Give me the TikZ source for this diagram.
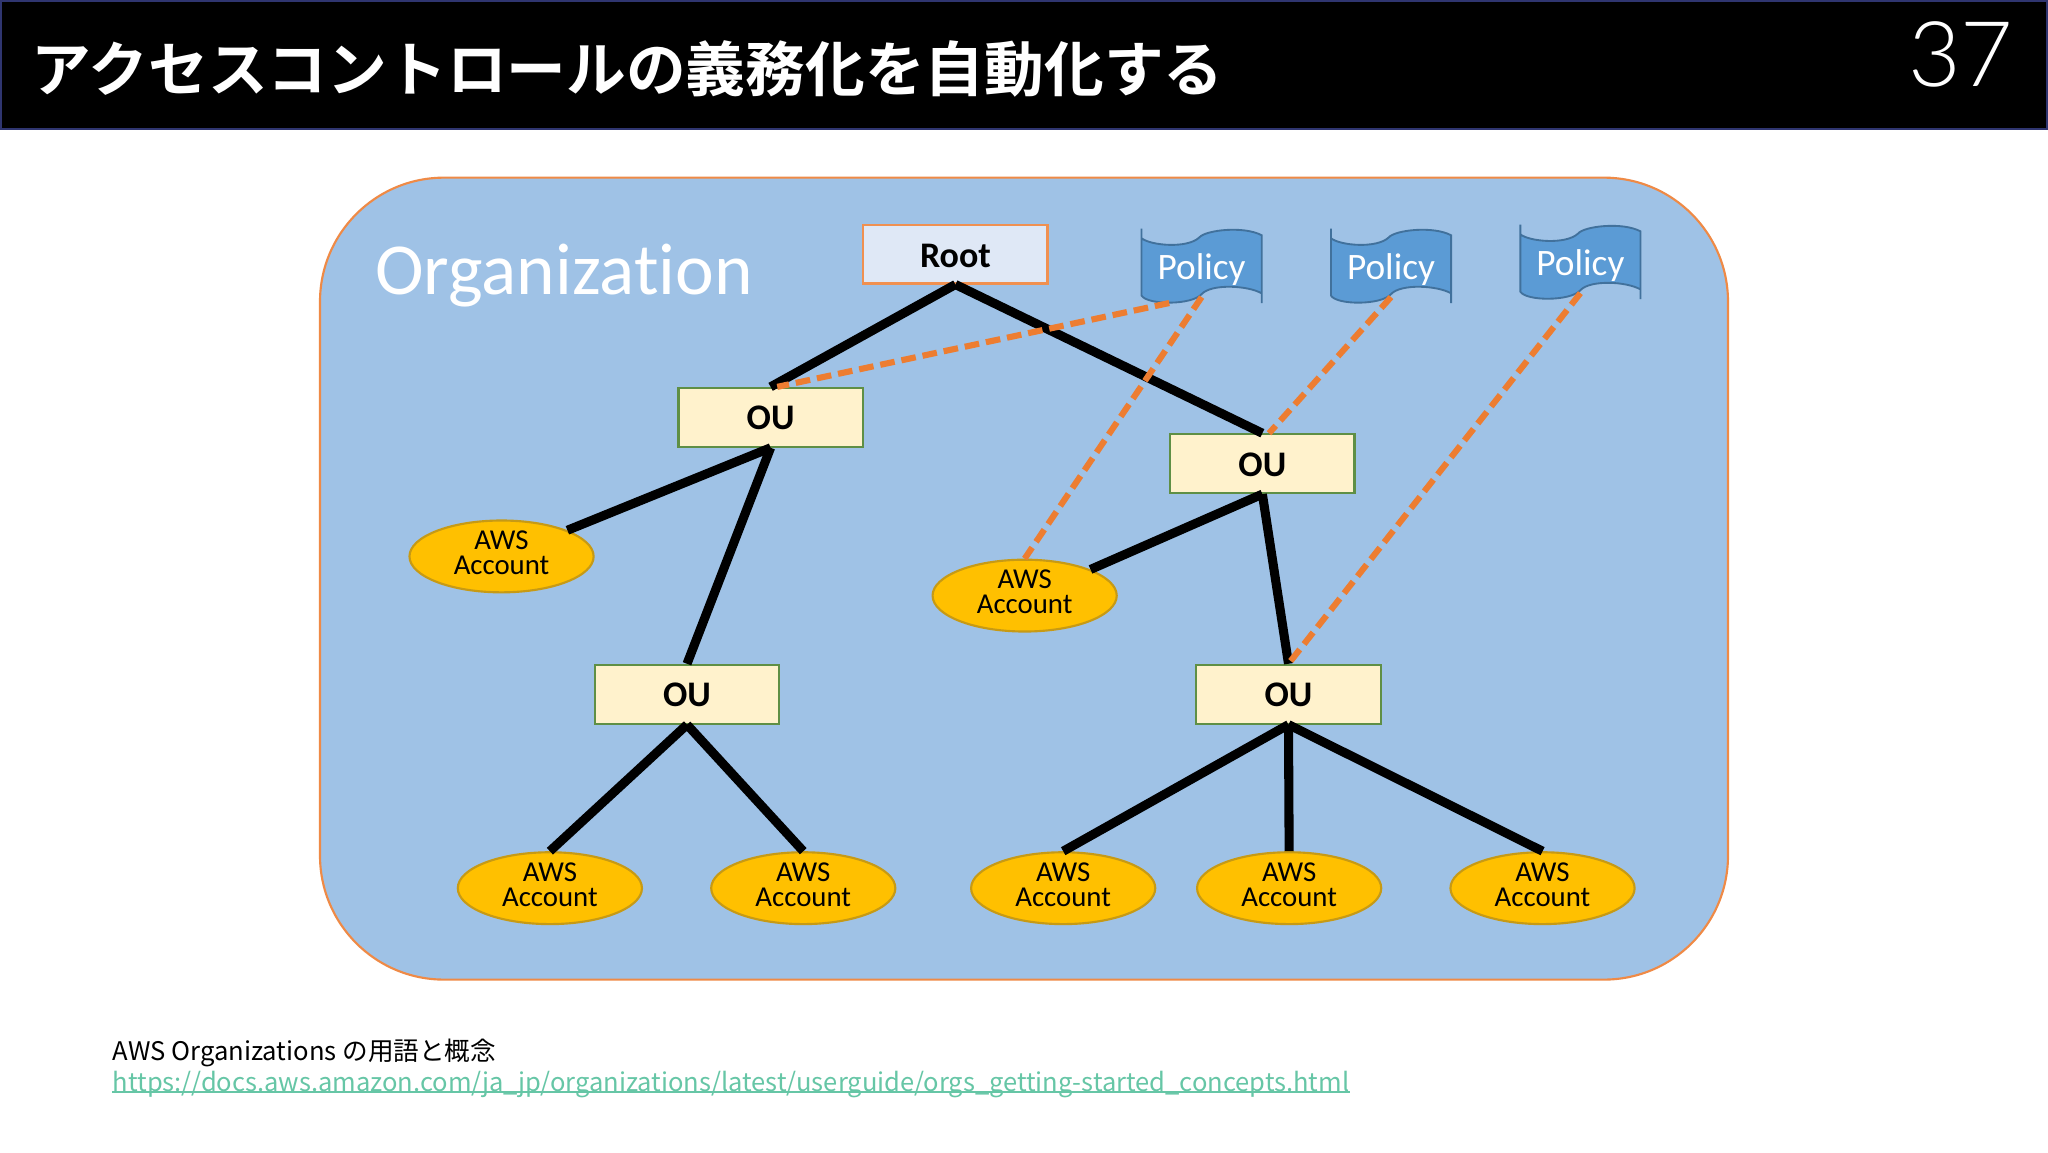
\documentclass[tikz,border=0pt]{standalone}
\usepackage{fontspec}
\usetikzlibrary{shapes.geometric}
\setmainfont[Ligatures=NoCommon]{Carlito}
\newfontfamily\jpb[BoldFont={Noto Sans CJK JP Bold}]{Noto Sans CJK JP}
\newfontfamily\jpn{Noto Sans CJK JP}
\newfontfamily\numf{Lato Light}
\newlength\upx \setlength\upx{0.4898pt}
\definecolor{orgfill}{HTML}{9FC2E6}
\definecolor{orgline}{HTML}{ED7D31}
\definecolor{rootfill}{HTML}{DFE8F6}
\definecolor{oufill}{HTML}{FFF2CC}
\definecolor{ouline}{HTML}{5F8F45}
\definecolor{accfill}{HTML}{FFC000}
\definecolor{accline}{HTML}{C79A14}
\definecolor{flagfill}{HTML}{5B9BD5}
\definecolor{flagline}{HTML}{41719C}
\definecolor{hdrline}{HTML}{2F3570}
\definecolor{linkcol}{HTML}{66C6A6}
\tikzset{
  rootbox/.style={draw=orgline!85!white,line width=0.8pt,fill=rootfill,minimum width=141\upx,minimum height=45\upx,inner sep=0pt,font=\bfseries\fontsize{13.5}{15}\selectfont},
  oubox/.style={draw=ouline,line width=0.8pt,fill=oufill,minimum width=141\upx,minimum height=45\upx,inner sep=0pt,font=\bfseries\fontsize{13.5}{15}\selectfont},
  acct/.style={ellipse,draw=accline,line width=0.8pt,fill=accfill,minimum width=141\upx,minimum height=55\upx,inner sep=0pt,align=center,font=\fontsize{10.8}{9.4}\selectfont},
  tie/.style={line width=3.4pt,black},
  pol/.style={line width=2.3pt,orgline,dash pattern=on 5.5pt off 2.6pt},
}
\newcommand{\lowtext}[2]{\raisebox{-#1}[0pt][0pt]{#2}}
\newcommand{\acctxt}{\lowtext{2.1pt}{AWS}\\\lowtext{2.1pt}{Account}}
\newcommand{\flagshape}[3]{%
 \begin{scope}[shift={(#2,#3)},x=92\upx,y=-57\upx]
  \draw[fill=flagfill,draw=flagline,line width=0.7pt]
    (0,0)--(0,.13) .. controls (.08,.23) and (.38,.27) .. (.48,.12)
    .. controls (.53,.02) and (.85,-.04) .. (1,.09)
    -- (1,1) -- (1,.87) .. controls (.88,.76) and (.58,.74) .. (.5,.88)
    .. controls (.42,1.03) and (.05,1.03) .. (0,.9) -- cycle;
  \node[text=white,inner sep=0pt,font=\fontsize{14}{16}\selectfont] (#1) at (.5,.545) {Policy};
  \coordinate (#1b) at (.5,.92);
  \coordinate (#1c) at (.23,1);
 \end{scope}}
\begin{document}
\begin{tikzpicture}[x=\upx,y=-\upx]
\useasboundingbox (0,0) rectangle (1568,882);
\fill[white] (0,0) rectangle (1568,882);
% header
\draw[fill=black,draw=hdrline,line width=0.7pt] (0.5,0.5) rectangle (1567.5,98.5);
\node[anchor=west,text=white,inner sep=0pt] (title) at (24,53) {\jpb\bfseries\fontsize{22.4}{26}\selectfont アクセスコントロールの義務化を自動化する};
\node[anchor=east,text=white,inner sep=0pt] (num) at (1542,42) {\numf\fontsize{34}{40}\selectfont 37};
% organization
\draw[fill=orgfill,draw=orgline!90!white,line width=0.8pt,rounded corners=95\upx] (245,136) rectangle (1323,750);
\node[anchor=west,text=white,inner sep=0pt,font=\fontsize{27.5}{30}\selectfont] (org) at (287,211) {Organization};
% nodes
\node[rootbox] (root) at (731.5,194.5) {\lowtext{5pt}{Root}};
\node[oubox] (ou1) at (590,319.5) {\lowtext{4.7pt}{OU}};
\node[oubox] (ou2) at (966.5,355) {\lowtext{4.7pt}{OU}};
\node[oubox] (ou3) at (526,531.5) {\lowtext{4.7pt}{OU}};
\node[oubox] (ou4) at (986.5,531.5) {\lowtext{4.7pt}{OU}};
\node[acct] (a1) at (384,426) {\acctxt};
\node[acct] (a2) at (784.5,456) {\acctxt};
\node[acct] (a3) at (421,680) {\acctxt};
\node[acct] (a4) at (615,680) {\acctxt};
\node[acct] (a5) at (814,680) {\acctxt};
\node[acct] (a6) at (987,680) {\acctxt};
\node[acct] (a7) at (1181,680) {\acctxt};
\flagshape{p1}{874}{175}
\flagshape{p2}{1019}{175}
\flagshape{p3}{1164}{172}
% tree connectors
\draw[tie] (root.south) -- (ou1.north);
\draw[tie] (root.south) -- (ou2.north);
\draw[tie] (ou1.south) -- (a1.north east);
\draw[tie] (ou1.south) -- (ou3.north);
\draw[tie] (ou2.south) -- (a2.north east);
\draw[tie] (ou2.south) -- (ou4.north);
\draw[tie] (ou3.south) -- (a3.north);
\draw[tie] (ou3.south) -- (a4.north);
\draw[tie] (ou4.south) -- (a5.north);
\draw[tie] (ou4.south) -- (a6.north);
\draw[tie] (ou4.south) -- (a7.north);
% policy connectors
\draw[pol] (p1c) -- ([xshift=2.5pt]ou1.north);
\draw[pol] (p1b) -- (a2.north);
\draw[pol] (p2b) -- ([xshift=2.5pt]ou2.north);
\draw[pol] (p3b) -- (ou4.north);
% footer
\node[anchor=west,inner sep=0pt] (ref) at (86,806) {\jpn\fontsize{9.6}{12}\selectfont AWS Organizations の用語と概念};
\node[anchor=west,inner sep=0pt,text=linkcol] (link) at (86,830) {\jpn\fontsize{9.57}{12}\selectfont https://docs.aws.amazon.com/ja\_jp/organizations/latest/userguide/orgs\_getting-started\_concepts.html};
\draw[linkcol,line width=0.6pt] ([yshift=2.2pt]link.south west) -- ([yshift=2.2pt]link.south east);
\end{tikzpicture}
\end{document}
